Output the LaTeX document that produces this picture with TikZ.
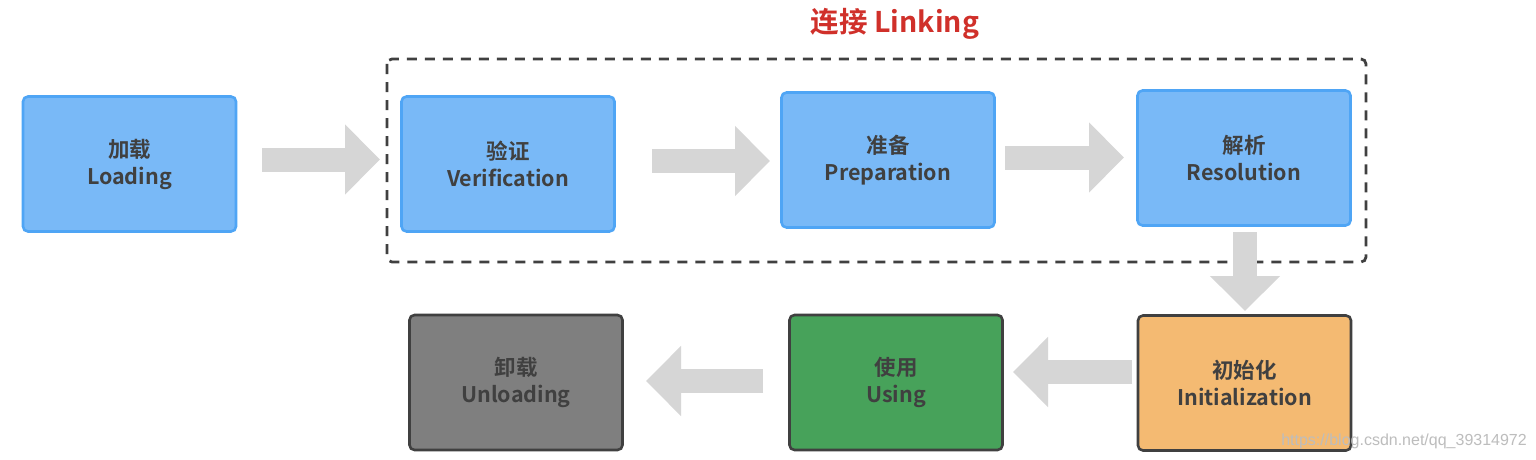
\documentclass[tikz,border=0pt]{standalone}
\usepackage{fontspec}
\setmainfont{Liberation Sans}
\newfontfamily\cjkb{Noto Sans CJK SC}[BoldFont={Noto Sans CJK SC Bold}]
\usetikzlibrary{arrows.meta,calc}
\definecolor{bluefill}{HTML}{79B9F7}
\definecolor{blueline}{HTML}{4FA5F5}
\definecolor{orangefill}{HTML}{F4BA72}
\definecolor{greenfill}{HTML}{47A25A}
\definecolor{grayfill}{HTML}{7F7F7F}
\definecolor{darkline}{HTML}{404040}
\definecolor{txt}{HTML}{404040}
\definecolor{arrowgray}{HTML}{D6D6D6}
\definecolor{titlered}{HTML}{D0302A}
\definecolor{wm}{HTML}{BDBDBD}
\tikzset{
  stagebox/.style={rounded corners=5pt, line width=2.6pt, minimum width=213pt, minimum height=135pt,
    align=center, font=\cjkb\bfseries\fontsize{21.5}{27}\selectfont, text=txt, inner sep=0pt},
  bluebox/.style={stagebox, fill=bluefill, draw=blueline},
  orangebox/.style={stagebox, fill=orangefill, draw=darkline},
  greenbox/.style={stagebox, fill=greenfill, draw=darkline},
  greybox/.style={stagebox, fill=grayfill, draw=darkline},
  blockarrow/.style={draw=arrowgray, line width=24pt,
    -{Triangle[length=35pt, width=68pt]}},
  linkframe/.style={draw=darkline, line width=2.8pt, dash pattern=on 10pt off 8pt, rounded corners=5pt}
}
\begin{document}
\begin{tikzpicture}[x=1pt,y=-1pt]
\useasboundingbox (0,0) rectangle (1536,460);
\fill[white] (0,0) rectangle (1536,460);

\draw[linkframe] (387,59) rectangle (1366,262);
\node[font=\cjkb\bfseries\fontsize{28.5}{32}\selectfont, text=titlered] (title) at (895,24) {连接 Linking};

\node[bluebox] (load) at (129.5,164) {加载\\Loading};
\node[bluebox] (verif) at (508,164) {验证\\Verification};
\node[bluebox] (prep) at (888,160) {准备\\Preparation};
\node[bluebox] (resol) at (1244,158) {解析\\Resolution};
\node[orangebox] (init) at (1244.5,383) {初始化\\Initialization};
\node[greenbox] (use) at (896,382.5) {使用\\Using};
\node[greybox] (unload) at (516,382.5) {卸载\\Unloading};

\coordinate (a1s) at (262,159.5); \coordinate (a1e) at (380,159.5);
\coordinate (a2s) at (652,161);   \coordinate (a2e) at (770,161);
\coordinate (a3s) at (1005,157.5); \coordinate (a3e) at (1124,157.5);
\coordinate (a4s) at (1245,232);  \coordinate (a4e) at (1245,311);
\coordinate (a5s) at (1132,372);  \coordinate (a5e) at (1013,372);
\coordinate (a6s) at (763,381);   \coordinate (a6e) at (646,381);

\draw[blockarrow] (a1s) -- (a1e);
\draw[blockarrow] (a2s) -- (a2e);
\draw[blockarrow] (a3s) -- (a3e);
\draw[blockarrow] (a4s) -- (a4e);
\draw[blockarrow] (a5s) -- (a5e);
\draw[blockarrow] (a6s) -- (a6e);

\node[font=\fontsize{16}{18}\selectfont, text=wm, anchor=east, inner sep=0pt] (wmark) at (1527,441) {https://blog.csdn.net/qq\_39314972};
\end{tikzpicture}
\end{document}
